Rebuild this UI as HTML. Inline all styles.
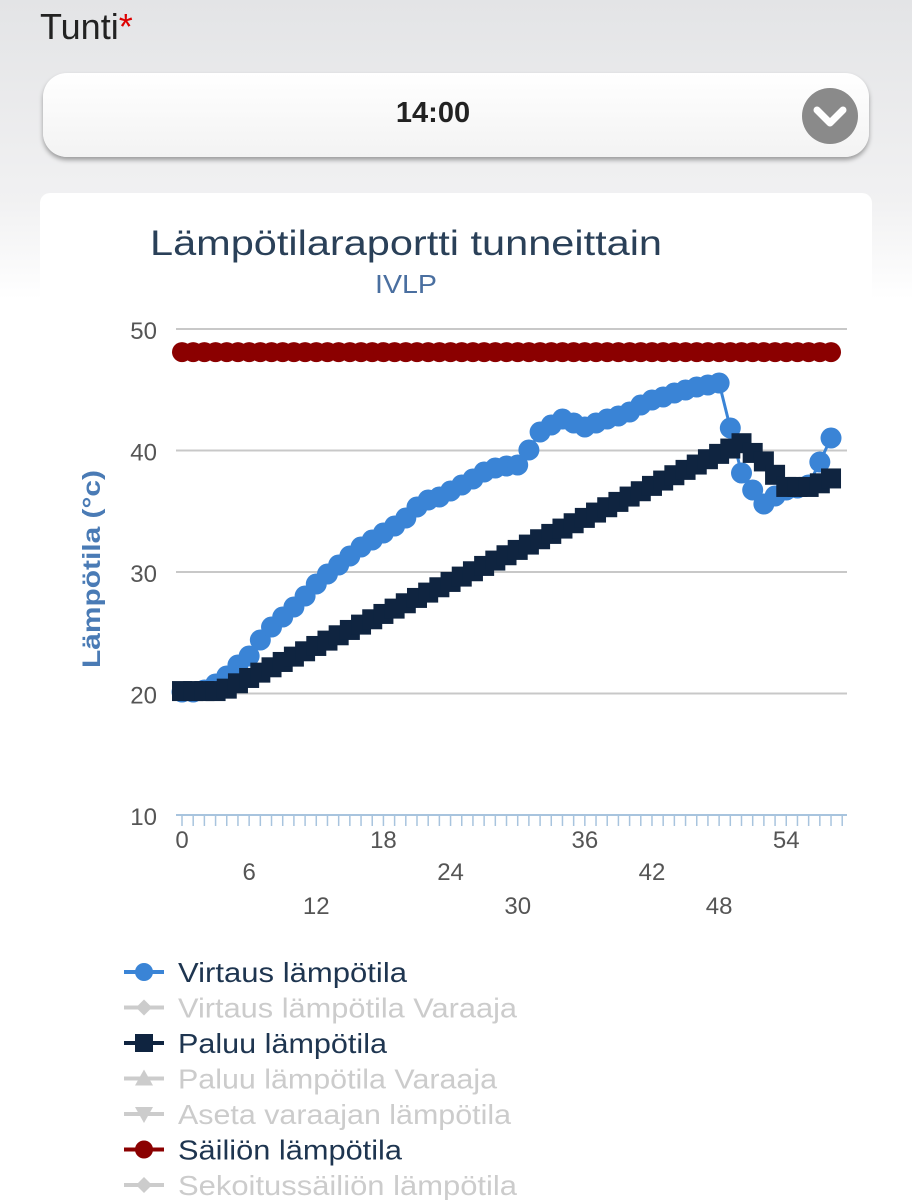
<!DOCTYPE html>
<html><head><meta charset="utf-8"><style>
html,body{margin:0;padding:0;width:912px;height:1200px;overflow:hidden;font-family:"Liberation Sans",sans-serif;}
body{background:linear-gradient(#e3e4e6 0px,#f1f1f2 200px,#ffffff 300px,#ffffff 1200px);position:relative;}
.lbl{position:absolute;left:40px;top:6px;font-size:36px;color:#222;}
.lbl span{color:#d00;}
.sel{position:absolute;left:43px;top:73px;width:826px;height:84px;border-radius:24px;background:linear-gradient(#fff,#f3f3f3);box-shadow:0 3px 5px rgba(0,0,0,.35);}
.sel .t{position:absolute;left:350px;width:80px;top:24px;text-align:center;font-size:29px;font-weight:bold;color:#222;}
.sel .c{position:absolute;left:759px;top:15px;width:56px;height:56px;border-radius:50%;background:#8a8a8a;}
.card{position:absolute;left:40px;top:193px;width:832px;height:1007px;background:#fff;border-radius:10px 10px 0 0;}
svg{position:absolute;left:0;top:0;}
</style></head><body>
<div class="lbl">Tunti<span>*</span></div>
<div class="sel"><div class="t">14:00</div><div class="c"><svg width="56" height="56" style="position:absolute"><polyline points="15,22 28,35 41,22" fill="none" stroke="#fff" stroke-width="7" stroke-linecap="round" stroke-linejoin="round"/></svg></div></div>
<div class="card"></div>
<svg id="s" width="912" height="1200" font-family="Liberation Sans, sans-serif"></svg>
<script>
var s='';
function Y(v){return 815-(v-10)*12.15;}
function X(i){return 182+11.19*i;}
s+='<text x="150" y="255" font-size="35" fill="#2a4058" textLength="512" lengthAdjust="spacingAndGlyphs">Lämpötilaraportti tunneittain</text>';
s+='<text x="375" y="293" font-size="26" fill="#4a6fa0" textLength="62" lengthAdjust="spacingAndGlyphs">IVLP</text>';
[50,40,30,20].forEach(function(v){s+='<line x1="176" x2="847" y1="'+Y(v)+'" y2="'+Y(v)+'" stroke="#c8c8c8" stroke-width="2"/>';});
s+='<line x1="176" x2="847" y1="815" y2="815" stroke="#a8c4de" stroke-width="2"/>';
for(var i=0;i<=59;i++){s+='<line x1="'+X(i)+'" x2="'+X(i)+'" y1="815" y2="826" stroke="#a8c4de" stroke-width="1.5"/>';}
[50,40,30,20,10].forEach(function(v){s+='<text x="157" y="'+(Y(v)+10)+'" font-size="24" fill="#555" text-anchor="end">'+v+'</text>';});
var xl=[[0,848],[6,880],[12,914],[18,848],[24,880],[30,914],[36,848],[42,880],[48,914],[54,848]];
xl.forEach(function(a){s+='<text x="'+X(a[0])+'" y="'+a[1]+'" font-size="24" fill="#555" text-anchor="middle">'+a[0]+'</text>';});
s+='<text transform="translate(100,569) rotate(-90)" font-size="25" font-weight="bold" fill="#4a7bb5" text-anchor="middle" textLength="198" lengthAdjust="spacingAndGlyphs">Lämpötila (°c)</text>';
var r='';for(i=0;i<=58;i++)r+=X(i)+','+Y(48.1)+' ';
s+='<polyline points="'+r+'" fill="none" stroke="#8b0000" stroke-width="3"/>';
for(i=0;i<=58;i++)s+='<circle cx="'+X(i)+'" cy="'+Y(48.1)+'" r="10" fill="#8b0000"/>';
var by=[692,692,690,684,676,665,656,640,627,617,607,596,584,574,565,556,547,540,533,526,518,507,500,497,491,485,479,472,468,466,465,450,432,425,419,423,427,423,419,416,412,405,400,397,393,390,387,385,383,428,473,490,504,496,490,488,485,462,438];
var p='';for(i=0;i<by.length;i++)p+=X(i)+','+by[i]+' ';
s+='<polyline points="'+p+'" fill="none" stroke="#3a84d6" stroke-width="3"/>';
for(i=0;i<by.length;i++)s+='<circle cx="'+X(i)+'" cy="'+by[i]+'" r="10.5" fill="#3a84d6"/>';
var dv=[];for(i=0;i<=58;i++){var v;if(i<=3)v=20.2;else if(i<=50)v=20.4+(i-4)*(20.2/46);else v=[40.6,39.8,39.1,38,37,37,37,37.3,37.7][i-50];dv.push(v);}
p='';for(i=0;i<dv.length;i++)p+=X(i)+','+Y(dv[i])+' ';
s+='<polyline points="'+p+'" fill="none" stroke="#0f2440" stroke-width="3"/>';
for(i=0;i<dv.length;i++)s+='<rect x="'+(X(i)-10)+'" y="'+(Y(dv[i])-10)+'" width="20" height="20" fill="#0f2440"/>';
var L=[['Virtaus lämpötila','#3a84d6','c',1,229],['Virtaus lämpötila Varaaja','#ccc','d',0,339],['Paluu lämpötila','#0f2440','s',1,209],['Paluu lämpötila Varaaja','#ccc','t',0,319],['Aseta varaajan lämpötila','#ccc','v',0,333],['Säiliön lämpötila','#8b0000','c',1,224],['Sekoitussäiliön lämpötila','#ccc','d',0,339]];
L.forEach(function(l,k){var y=972+k*35.5;s+='<line x1="124" x2="164" y1="'+y+'" y2="'+y+'" stroke="'+l[1]+'" stroke-width="4"/>';
if(l[2]=='c')s+='<circle cx="144" cy="'+y+'" r="9" fill="'+l[1]+'"/>';
if(l[2]=='s')s+='<rect x="135" y="'+(y-9)+'" width="18" height="18" fill="'+l[1]+'"/>';
if(l[2]=='d')s+='<polygon points="144,'+(y-8)+' 152,'+y+' 144,'+(y+8)+' 136,'+y+'" fill="'+l[1]+'"/>';
if(l[2]=='t')s+='<polygon points="144,'+(y-9)+' 153,'+(y+7)+' 135,'+(y+7)+'" fill="'+l[1]+'"/>';
if(l[2]=='v')s+='<polygon points="144,'+(y+9)+' 153,'+(y-7)+' 135,'+(y-7)+'" fill="'+l[1]+'"/>';
s+='<text x="178" y="'+(y+10)+'" font-size="28" fill="'+(l[3]?'#1e3550':'#cccccc')+'" textLength="'+l[4]+'" lengthAdjust="spacingAndGlyphs">'+l[0]+'</text>';});
document.getElementById('s').innerHTML=s;
</script>
</body></html>
